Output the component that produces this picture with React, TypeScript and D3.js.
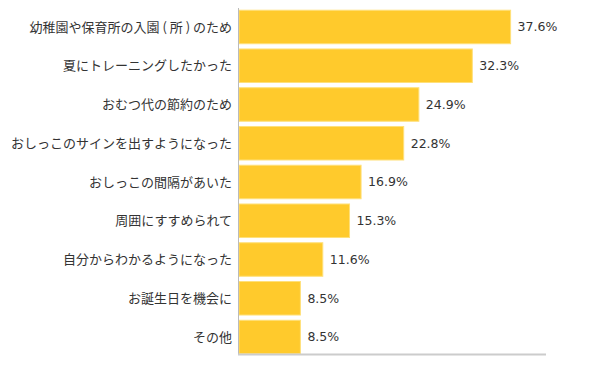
import React from 'react'
import * as d3 from 'd3'

const categories = [
  '幼稚園や保育所の入園 ( 所 ) のため',
  '夏にトレーニングしたかった',
  'おむつ代の節約のため',
  'おしっこのサインを出すようになった',
  'おしっこの間隔があいた',
  '周囲にすすめられて',
  '自分からわかるようになった',
  'お誕生日を機会に',
  'その他',
]
const values = [37.6, 32.3, 24.9, 22.8, 16.9, 15.3, 11.6, 8.5, 8.5]

const W = 600
const H = 366
const left = 239
const right = 546
const top = 8
const bottom = 355

const font = '"Noto Sans CJK JP", "Noto Sans", sans-serif'
const numFont = '"DejaVu Sans", sans-serif'

const App: React.FC = () => {
  const x = d3.scaleLinear().domain([0, 42.5]).range([left, right])
  const y = d3
    .scaleBand<string>()
    .domain(categories)
    .range([7.6, 356.4])
    .paddingInner(0.135)
    .paddingOuter(0.0675)

  return (
    <svg width={W} height={H} style={{ position: 'absolute', left: 0, top: 0 }}>
      <rect width={W} height={H} fill="#fff" />
      {categories.map((c, i) => {
        const yy = y(c) as number
        const bw = y.bandwidth()
        return (
          <g key={c}>
            <rect
              x={x(0)}
              y={yy}
              width={x(values[i]) - x(0)}
              height={bw}
              fill="#FFCA2C"
              stroke="#FFE07A"
              strokeWidth={1}
            />
            <text
              x={232}
              y={yy + bw / 2}
              dy="0.35em"
              textAnchor="end"
              fontFamily={font}
              fontSize={13}
              fill="#333"
            >
              {c}
            </text>
            <text
              x={x(values[i]) + 7}
              y={yy + bw / 2}
              dy="0.35em"
              fontFamily={numFont}
              fontSize={12.5}
              fill="#333"
            >
              {values[i].toFixed(1)}%
            </text>
          </g>
        )
      })}
      <line x1={238.5} x2={238.5} y1={top} y2={bottom} stroke="#bbb" strokeWidth={1} />
      <line x1={238} x2={right} y1={354.5} y2={354.5} stroke="#ccc" strokeWidth={2} />
    </svg>
  )
}

export default App
